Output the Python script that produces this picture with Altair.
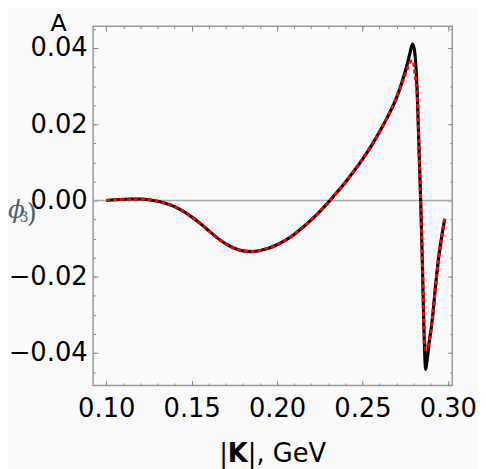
import altair as alt
import pandas as pd

# ---- data ----
black_x = [0.100, 0.105, 0.110, 0.115, 0.120, 0.125, 0.130, 0.135, 0.140, 0.145,
           0.150, 0.155, 0.160, 0.165, 0.170, 0.175, 0.180, 0.185, 0.190, 0.195,
           0.200, 0.205, 0.210, 0.215, 0.220, 0.225, 0.230, 0.235, 0.240, 0.245,
           0.250, 0.255, 0.260, 0.265, 0.270, 0.273, 0.2764, 0.2780, 0.2793, 0.2803,
           0.2812, 0.2822, 0.2831, 0.2841, 0.2851, 0.2860, 0.2865, 0.2870, 0.2877,
           0.2889, 0.2909, 0.2928, 0.2947, 0.2967, 0.2982]
black_y = [0.0000, 0.0002, 0.0003, 0.0004, 0.0004, 0.0002, -0.0002, -0.0008, -0.0016, -0.0028,
           -0.0043, -0.0060, -0.0079, -0.0098, -0.0114, -0.0125, -0.0132, -0.0134, -0.0131, -0.0125,
           -0.0116, -0.0104, -0.0089, -0.0071, -0.0051, -0.0029, -0.0005, 0.0021, 0.0048, 0.0077,
           0.0108, 0.0142, 0.0180, 0.0222, 0.0270, 0.0308, 0.0360, 0.0390, 0.0410, 0.0398,
           0.0360, 0.0268, 0.0138, 0.0000, -0.0164, -0.0338, -0.0405, -0.0443, -0.0425,
           -0.0379, -0.0312, -0.0225, -0.0147, -0.0087, -0.0048]

red_x = [0.100, 0.105, 0.110, 0.115, 0.120, 0.125, 0.130, 0.135, 0.140, 0.145,
         0.150, 0.155, 0.160, 0.165, 0.170, 0.175, 0.180, 0.185, 0.190, 0.195,
         0.200, 0.205, 0.210, 0.215, 0.220, 0.225, 0.230, 0.235, 0.240, 0.245,
         0.250, 0.255, 0.260, 0.265, 0.270, 0.273, 0.2764, 0.2780, 0.2793, 0.2803,
         0.2812, 0.2822, 0.2831, 0.2841, 0.2851, 0.2860, 0.2865, 0.2870, 0.2877,
         0.2889, 0.2909, 0.2928, 0.2947, 0.2967, 0.2982]
red_y = [0.0000, 0.0002, 0.0003, 0.0004, 0.0004, 0.0002, -0.0002, -0.0008, -0.0016, -0.0028,
         -0.0043, -0.0060, -0.0079, -0.0098, -0.0114, -0.0125, -0.0132, -0.0134, -0.0131, -0.0125,
         -0.0116, -0.0104, -0.0089, -0.0071, -0.0051, -0.0029, -0.0005, 0.0021, 0.0048, 0.0077,
         0.0108, 0.0142, 0.0180, 0.0222, 0.0270, 0.0305, 0.0348, 0.0364, 0.0367, 0.0352,
         0.0315, 0.0262, 0.0138, 0.0000, -0.0164, -0.0330, -0.0372, -0.0391, -0.0385,
         -0.0372, -0.0312, -0.0225, -0.0147, -0.0087, -0.0048]

x_major = [0.10, 0.15, 0.20, 0.25, 0.30]
x_minor = [0.10, 0.11, 0.12, 0.13, 0.14, 0.15, 0.16, 0.17, 0.18, 0.19, 0.20,
           0.21, 0.22, 0.23, 0.24, 0.25, 0.26, 0.27, 0.28, 0.29, 0.30]
y_major = [-0.04, -0.02, 0.00, 0.02, 0.04]
y_minor = [-0.045, -0.04, -0.035, -0.03, -0.025, -0.02, -0.015, -0.01, -0.005, 0.0,
           0.005, 0.01, 0.015, 0.02, 0.025, 0.03, 0.035, 0.04, 0.045]

x_domain = [0.0923, 0.3026]
y_domain = [-0.0485, 0.0457]

black = pd.DataFrame({"k": black_x, "v": black_y})
red = pd.DataFrame({"k": red_x, "v": red_y})

FONT = "DejaVu Sans"
TICK = "#8c8c8c"
PHI_COLOR = "#4a6470"


def axis(orient, values, size, labels=False, pad=0):
    kw = dict(orient=orient, values=values, tickSize=size, offset=-size,
              domain=False, grid=False, title=None, tickColor=TICK, tickWidth=1,
              labels=labels)
    if labels:
        kw.update(labelFont=FONT, labelFontSize=26, labelColor="black",
                  labelPadding=pad, format=".2f", labelFlush=False,
                  labelOverlap=False)
    return alt.Axis(**kw)


xs = alt.Scale(domain=x_domain, nice=False, zero=False)
ys = alt.Scale(domain=y_domain, nice=False, zero=False)


def enc(src_chart, xa, ya):
    return src_chart.encode(
        x=alt.X("k:Q", scale=xs, axis=xa),
        y=alt.Y("v:Q", scale=ys, axis=ya),
    )


top_major = enc(alt.Chart(black).mark_line(opacity=0),
                axis("top", x_major, 5), axis("right", y_major, 5))
top_minor = enc(alt.Chart(black).mark_line(opacity=0),
                axis("top", x_minor, 2.5), axis("right", y_minor, 2.5))

zero = alt.Chart(pd.DataFrame({"z": [0.0]})).mark_rule(
    color="#a8a8a8", strokeWidth=1.5
).encode(y=alt.Y("z:Q", scale=ys, axis=None))

black_line = enc(
    alt.Chart(black).mark_line(color="black", strokeWidth=3.2, interpolate="monotone"),
    axis("bottom", x_major, 5, True, 10), axis("left", y_major, 5, True, 6))
red_line = enc(
    alt.Chart(red).mark_line(color="#ff0000", strokeWidth=3, strokeDash=[4, 3],
                             interpolate="monotone"),
    axis("bottom", x_minor, 2.5), axis("left", y_minor, 2.5))

one = pd.DataFrame({"t": [""]})


def label(text, x, y, size, font=FONT, color="black", **kw):
    return alt.Chart(one).mark_text(text=text, font=font, color=color,
                                    align="left", baseline="alphabetic", **kw).encode(
        x=alt.value(x), y=alt.value(y), size=alt.value(size))


txt_a = label("A", -43, 5, 24)
phi1 = label("ϕ", -86, 194, 25, font="DejaVu Serif", color=PHI_COLOR, fontStyle="italic")
phi2 = label("3", -74, 198, 14, font="DejaVu Serif", color=PHI_COLOR)
phi3 = label(")", -67, 198, 26, font="DejaVu Serif", color=PHI_COLOR)
t1 = label("|", 127.4, 440, 26)
t2 = label("K", 136.2, 440, 26, fontWeight="bold")
t3 = label("|, GeV", 156.3, 440, 26)

chart = alt.layer(
    top_major, top_minor, zero, black_line, red_line,
    txt_a, phi1, phi2, phi3, t1, t2, t3
).resolve_axis(x="independent", y="independent").properties(
    width=363, height=363,
    autosize=alt.AutoSizeParams(type="none"),
    padding={"left": 86, "top": 16, "right": 26, "bottom": 82},
    background="#fafafa",
).configure_view(stroke="#999999", strokeWidth=1.5)

chart.save("out.html", embed_options={"renderer": "svg", "actions": False})
